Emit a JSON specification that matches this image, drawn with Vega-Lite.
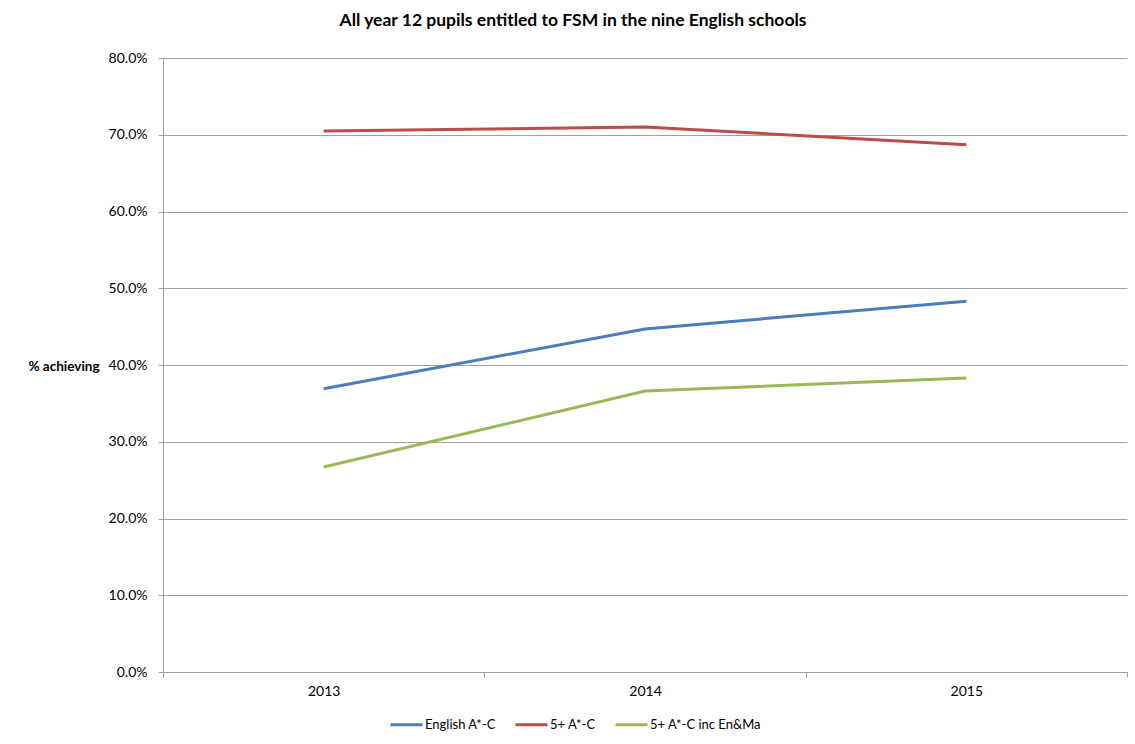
{
  "$schema": "https://vega.github.io/schema/vega-lite/v6.json",
  "autosize": {"type": "none"},
  "width": 964,
  "height": 614,
  "padding": {"left": 163, "top": 58, "right": 8, "bottom": 72},
  "background": "white",
  "title": {
    "text": "All year 12 pupils entitled to FSM in the nine English schools",
    "font": "Lato",
    "fontSize": 17.5,
    "fontWeight": "bold",
    "color": "#000000",
    "anchor": "middle",
    "dx": -72,
    "offset": 22
  },
  "data": {
    "values": [
      {"year": "2013", "series": "English A*-C", "value": 0.369},
      {"year": "2014", "series": "English A*-C", "value": 0.447},
      {"year": "2015", "series": "English A*-C", "value": 0.483},
      {"year": "2013", "series": "5+ A*-C", "value": 0.705},
      {"year": "2014", "series": "5+ A*-C", "value": 0.710},
      {"year": "2015", "series": "5+ A*-C", "value": 0.687},
      {"year": "2013", "series": "5+ A*-C inc En&Ma", "value": 0.267},
      {"year": "2014", "series": "5+ A*-C inc En&Ma", "value": 0.366},
      {"year": "2015", "series": "5+ A*-C inc En&Ma", "value": 0.383}
    ]
  },
  "mark": {"type": "line", "strokeWidth": 3},
  "encoding": {
    "x": {
      "field": "year",
      "type": "ordinal",
      "scale": {"type": "band", "paddingInner": 0, "paddingOuter": 0},
      "axis": {
        "title": null,
        "labelAngle": 0,
        "tickBand": "extent",
        "labelFont": "Lato",
        "labelFontSize": 14,
        "labelColor": "#000000",
        "labelPadding": 7,
        "domainColor": "#a0a0a0",
        "tickColor": "#a0a0a0",
        "tickSize": 5,
        "grid": false
      }
    },
    "y": {
      "field": "value",
      "type": "quantitative",
      "scale": {"domain": [0, 0.8], "nice": false},
      "axis": {
        "title": "% achieving",
        "titleAngle": 0,
        "titleAlign": "left",
        "titleBaseline": "middle",
        "titleX": -135,
        "titleY": 308,
        "titleFont": "Lato",
        "titleFontSize": 13.5,
        "titleFontWeight": "bold",
        "titleColor": "#000000",
        "format": ".1%",
        "values": [0, 0.1, 0.2, 0.3, 0.4, 0.5, 0.6, 0.7, 0.8],
        "labelFont": "Lato",
        "labelFontSize": 14,
        "labelColor": "#000000",
        "labelPadding": 11,
        "domainColor": "#a0a0a0",
        "tickColor": "#a0a0a0",
        "tickSize": 5,
        "gridColor": "#a0a0a0",
        "gridWidth": 1
      }
    },
    "color": {
      "field": "series",
      "type": "nominal",
      "sort": ["English A*-C", "5+ A*-C", "5+ A*-C inc En&Ma"],
      "scale": {
        "domain": ["English A*-C", "5+ A*-C", "5+ A*-C inc En&Ma"],
        "range": ["#4a7ebb", "#be4b48", "#98b954"]
      },
      "legend": {
        "title": null,
        "orient": "none",
        "direction": "horizontal",
        "legendX": 226,
        "legendY": 649,
        "symbolType": "stroke",
        "symbolSize": 1024,
        "symbolStrokeWidth": 3,
        "labelFont": "Lato",
        "labelFontSize": 13,
        "labelColor": "#000000",
        "labelOffset": 1,
        "columnPadding": 13
      }
    }
  },
  "config": {
    "view": {"stroke": null}
  }
}
